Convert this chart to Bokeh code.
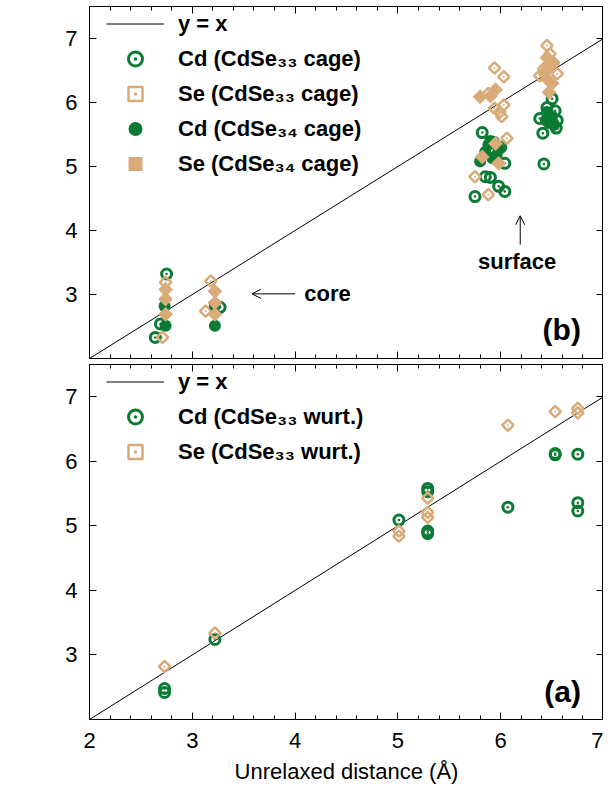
import math
from bokeh.plotting import figure
from bokeh.layouts import column
from bokeh.models import (Legend, LegendItem, LinearAxis, Arrow, OpenHead, Label,
                          FixedTicker, Range1d, CustomJSTickFormatter)
from bokeh.embed import file_html
from bokeh.resources import INLINE

# ---------------- data ----------------
line_x = [2.0, 7.0]
line_y = [2.0, 7.0]

# panel (b): cage structures
cd33_x = [2.75, 2.69, 2.64, 3.27,
          5.82, 6.04, 5.85, 5.90, 5.98, 6.04, 5.75, 5.93, 6.00,
          6.50, 6.45, 6.53, 6.38, 6.55, 6.54, 6.41, 6.42, 6.47]
cd33_y = [3.32, 2.54, 2.33, 2.80,
          5.53, 5.05, 4.84, 4.83, 4.69, 4.61, 4.53, 5.38, 5.30,
          6.06, 5.92, 5.87, 5.75, 5.72, 5.60, 5.52, 5.04, 5.80]

se33_x = [2.74, 2.71, 3.18, 3.13,
          5.94, 6.03, 5.88, 6.03, 5.94, 5.99, 6.01, 6.06, 5.75, 5.88,
          6.45, 6.48, 6.55, 6.51, 6.42, 6.38]
se33_y = [3.19, 2.33, 3.21, 2.74,
          6.54, 6.40, 6.14, 5.96, 5.91, 5.85, 5.78, 5.44, 4.84, 4.56,
          6.89, 6.76, 6.45, 6.61, 6.53, 6.42]

cd34_x = [2.73, 2.74, 3.22, 3.22,
          5.85, 5.88, 5.98, 5.92, 5.80, 5.96, 5.90,
          6.45, 6.50, 6.47, 6.52, 6.44]
cd34_y = [2.82, 2.51, 2.82, 2.51,
          5.23, 5.34, 5.28, 5.13, 5.08, 5.18, 5.40,
          5.85, 5.78, 5.68, 5.65, 5.72]

se34_x = [2.74, 2.74, 2.74, 3.22, 3.22, 3.22,
          5.95, 5.90, 5.80, 5.95, 5.82, 5.98,
          6.47, 6.45, 6.51, 6.47, 6.45, 6.42, 6.50]
se34_y = [3.08, 2.93, 2.69, 3.05, 2.87, 2.69,
          6.20, 6.10, 6.09, 5.36, 5.15, 5.05,
          6.16, 6.37, 6.63, 6.55, 6.70, 6.47, 6.30]

# panel (a): wurtzite
cdw_x = [2.73, 2.73, 3.22, 5.01, 5.29, 5.29, 5.29, 5.29, 6.07, 6.53, 6.53, 6.75, 6.75, 6.75]
cdw_y = [2.48, 2.42, 3.24, 5.09, 5.58, 5.53, 4.92, 4.88, 5.29, 6.12, 6.10, 6.11, 5.36, 5.23]
sew_x = [2.73, 3.22, 5.01, 5.01, 5.29, 5.29, 5.29, 6.07, 6.53, 6.75, 6.75]
sew_y = [2.82, 3.34, 4.92, 4.84, 5.43, 5.21, 5.13, 6.56, 6.77, 6.82, 6.75]

x_ticks = [2, 3, 4, 5, 6, 7]
y_ticks = [3, 4, 5, 6, 7]

# ---------------- style ----------------
GREEN = "#0a7a35"
TAN = "#d9ab79"
FONT = "Liberation Sans"


def style_axis(ax, labels, minor=True):
    ax.axis_line_color = "black"
    ax.axis_line_width = 1
    ax.major_tick_in = 7
    ax.major_tick_out = 0
    ax.major_tick_line_color = "black"
    ax.minor_tick_in = 4 if minor else 0
    ax.minor_tick_out = 0
    ax.minor_tick_line_color = "black" if minor else None
    ax.major_label_text_font = FONT
    ax.major_label_text_color = "black"
    if labels:
        ax.major_label_text_font_size = "22px"
        ax.major_label_standoff = 12
    else:
        ax.formatter = CustomJSTickFormatter(code="return ''")
        ax.major_label_text_font_size = "1px"
        ax.major_label_standoff = 0


def make_fig(border_top, frame_h, border_bottom, x_labels):
    p = figure(width=603, height=border_top + frame_h + border_bottom,
               x_range=Range1d(2, 7), y_range=Range1d(2, 7.5),
               output_backend="svg", toolbar_location=None,
               min_border_left=89, min_border_right=0,
               min_border_top=border_top, min_border_bottom=border_bottom)
    p.grid.visible = False
    p.outline_line_color = "black"
    p.outline_line_width = 1
    p.background_fill_color = "white"
    p.border_fill_color = "white"

    minor_x = [2 + 0.2 * i for i in range(26)]
    bottom = p.xaxis[0]
    left = p.yaxis[0]
    bottom.ticker = FixedTicker(ticks=x_ticks, minor_ticks=minor_x)
    left.ticker = FixedTicker(ticks=y_ticks)
    style_axis(bottom, x_labels, True)
    style_axis(left, True, False)

    top = LinearAxis(ticker=FixedTicker(ticks=x_ticks, minor_ticks=minor_x))
    style_axis(top, False, True)
    p.add_layout(top, "above")
    right = LinearAxis(ticker=FixedTicker(ticks=y_ticks))
    style_axis(right, False, False)
    p.add_layout(right, "right")

    if x_labels:
        bottom.major_label_standoff = 13
        bottom.axis_label = "Unrelaxed distance (Å)"
        bottom.axis_label_text_font = FONT
        bottom.axis_label_text_font_size = "22px"
        bottom.axis_label_text_font_style = "normal"
        bottom.axis_label_text_color = "black"
        bottom.axis_label_standoff = 8
    return p


def ylabel(p, ypos):
    p.add_layout(Label(x=-61, y=ypos, x_units="screen", y_units="data",
                       text="Relaxed distance (Å)", angle=math.pi / 2,
                       text_align="center", text_baseline="middle",
                       text_font=FONT, text_font_size="22px",
                       text_color="black"))


def make_legend(items, frame_h):
    leg = Legend(items=items, location=(17, frame_h - 35 * len(items)))
    leg.border_line_color = None
    leg.background_fill_alpha = 0
    leg.padding = 0
    leg.margin = 0
    leg.spacing = 0
    leg.glyph_width = 58
    leg.glyph_height = 35
    leg.label_height = 35
    leg.label_standoff = 14
    leg.label_text_font = FONT
    leg.label_text_font_size = "22px"
    leg.label_text_font_style = "bold"
    leg.label_text_color = "black"
    return leg


def text_label(p, x, y, text, size, align="left"):
    p.add_layout(Label(x=x, y=y, text=text, text_baseline="middle",
                       text_align=align, text_font=FONT, text_font_size=size,
                       text_font_style="bold", text_color="black"))


# ---------------- panel (b) ----------------
H1 = 352
p1 = make_fig(6, H1, 4, False)
ln1 = p1.line(line_x, line_y, line_color="black", line_width=1)
r_cd33 = p1.scatter(cd33_x, cd33_y, marker="circle_dot", size=10, line_width=3,
                    line_color=GREEN, fill_color=None)
r_se33 = p1.scatter(se33_x, se33_y, marker="square_dot", angle=math.pi / 4, size=8,
                    line_width=2.5, line_color=TAN, fill_color=None)
r_cd34 = p1.scatter(cd34_x, cd34_y, marker="circle", size=12, line_width=0,
                    line_color=GREEN, fill_color=GREEN)
r_se34 = p1.scatter(se34_x, se34_y, marker="square", angle=math.pi / 4, size=10.5,
                    line_width=0, line_color=TAN, fill_color=TAN)
p1.add_layout(make_legend([
    LegendItem(label="y = x", renderers=[ln1]),
    LegendItem(label="Cd (CdSe₃₃ cage)", renderers=[r_cd33]),
    LegendItem(label="Se (CdSe₃₃ cage)", renderers=[r_se33]),
    LegendItem(label="Cd (CdSe₃₄ cage)", renderers=[r_cd34]),
    LegendItem(label="Se (CdSe₃₄ cage)", renderers=[r_se34]),
], H1), "center")
ylabel(p1, 5.2)

p1.add_layout(Arrow(end=OpenHead(size=9, line_width=1, line_color="black"),
                    x_start=4.0, y_start=3.01, x_end=3.58, y_end=3.01,
                    line_width=1, line_color="black"))
text_label(p1, 4.09, 3.01, "core", "22px")
p1.add_layout(Arrow(end=OpenHead(size=9, line_width=1, line_color="black"),
                    x_start=6.19, y_start=3.78, x_end=6.19, y_end=4.23,
                    line_width=1, line_color="black"))
text_label(p1, 6.16, 3.52, "surface", "22px", "center")
text_label(p1, 6.78, 2.46, "(b)", "30px", "right")

# ---------------- panel (a) ----------------
H2 = 355
p2 = make_fig(2, H2, 68, True)
ln2 = p2.line(line_x, line_y, line_color="black", line_width=1)
r_cdw = p2.scatter(cdw_x, cdw_y, marker="circle_dot", size=10, line_width=3,
                   line_color=GREEN, fill_color=None)
r_sew = p2.scatter(sew_x, sew_y, marker="square_dot", angle=math.pi / 4, size=8,
                   line_width=2.5, line_color=TAN, fill_color=None)
p2.add_layout(make_legend([
    LegendItem(label="y = x", renderers=[ln2]),
    LegendItem(label="Cd (CdSe₃₃ wurt.)", renderers=[r_cdw]),
    LegendItem(label="Se (CdSe₃₃ wurt.)", renderers=[r_sew]),
], H2), "center")
ylabel(p2, 5.16)
text_label(p2, 6.78, 2.43, "(a)", "30px", "right")

layout = column(p1, p2, spacing=0)
open("out.html", "w").write(file_html(layout, INLINE))
